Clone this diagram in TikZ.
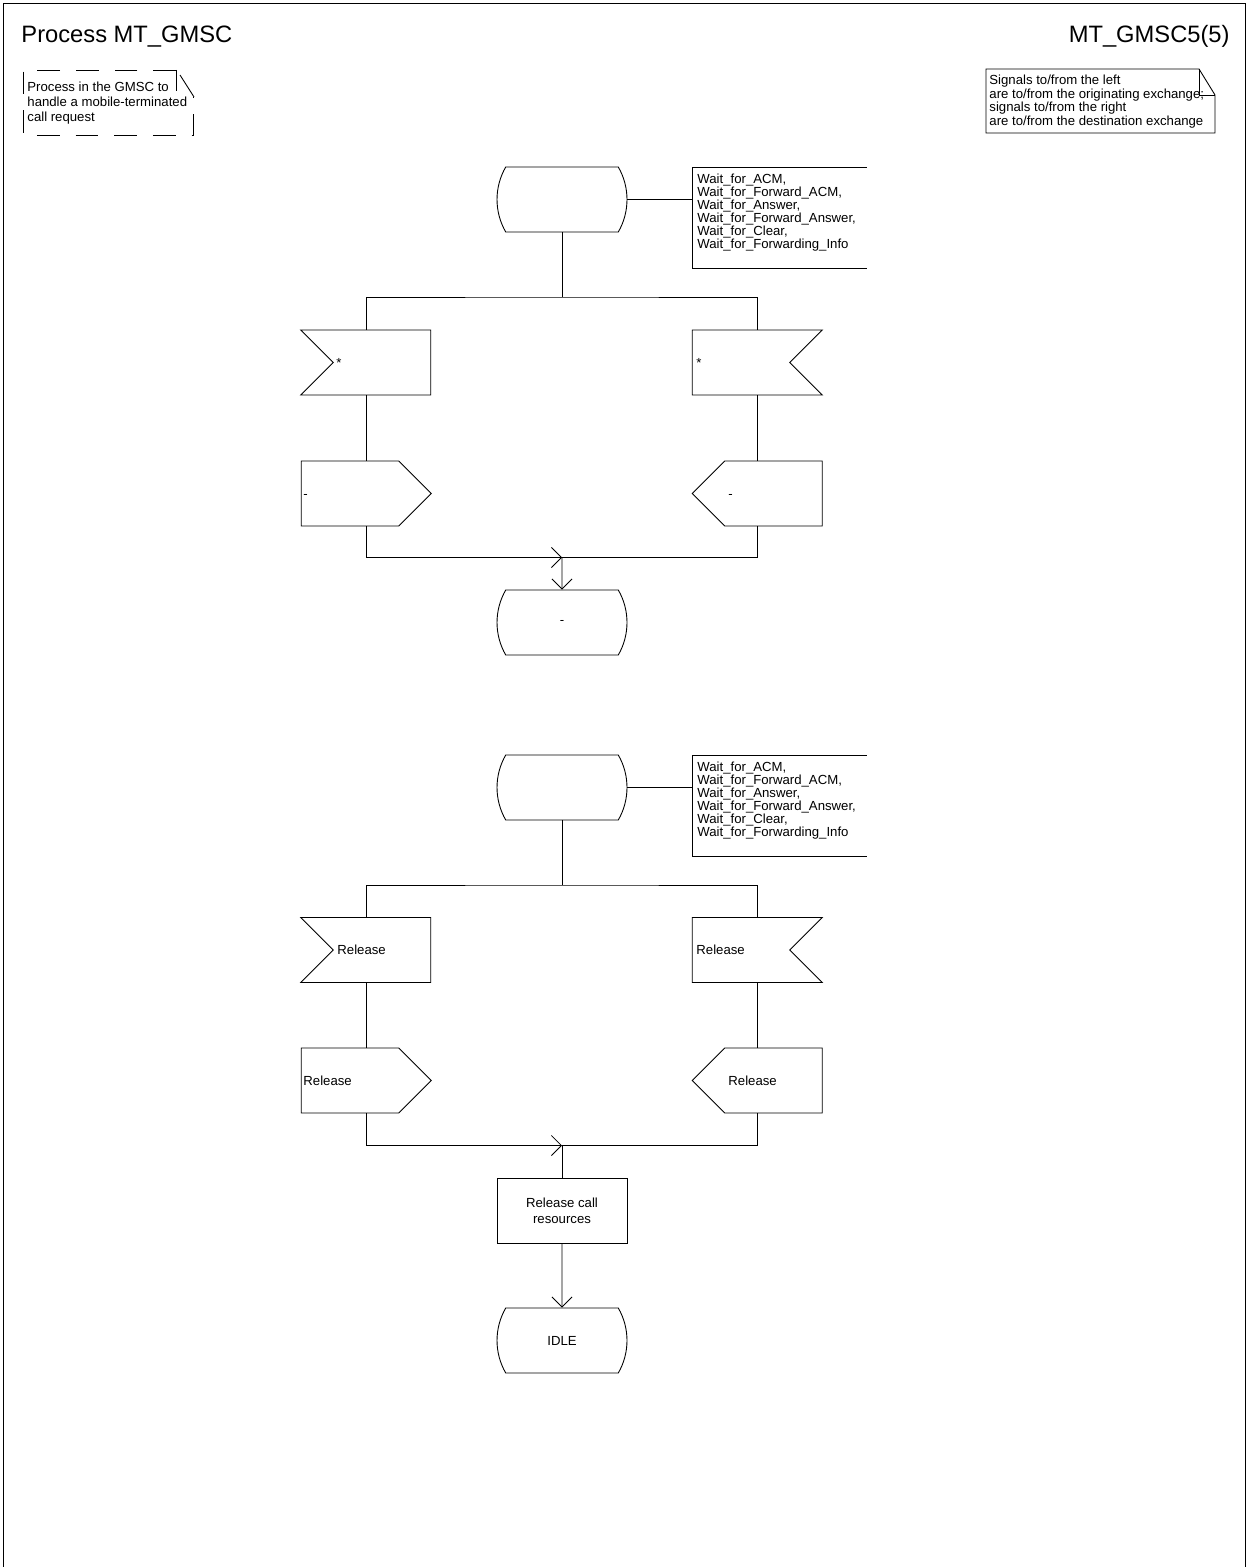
\documentclass[tikz,border=0pt]{standalone}
\usepackage{fontspec}
\setmainfont{Liberation Sans}
\usetikzlibrary{shapes.misc, shapes.symbols, arrows.meta, positioning}

\begin{document}
\begin{tikzpicture}[
    x=0.02cm, y=-0.02cm,
    line width=0.5pt,
    state/.style={rounded rectangle, rounded rectangle arc length=60, draw, minimum width=2.6cm, minimum height=1.3cm, inner sep=0pt, font=\fontsize{7.5}{9}\selectfont},
    sdl/.style={signal, draw, minimum width=2.6cm, minimum height=1.3cm, inner sep=0pt},
    inleft/.style={sdl, signal to=nowhere, signal from=west},
    inright/.style={sdl, signal to=nowhere, signal from=east},
    outleft/.style={sdl, signal to=east},
    outright/.style={sdl, signal to=west},
    task/.style={rectangle, draw, minimum width=2.6cm, minimum height=1.3cm, align=center, font=\fontsize{7.5}{9}\selectfont},
    annot/.style={rectangle, minimum width=3.48cm, minimum height=2.02cm, inner sep=0pt},
    txt/.style={inner sep=0pt, align=left, font=\fontsize{7.5}{7.4}\selectfont},
    lbl/.style={anchor=west, inner sep=0pt, text height=5.4pt, text depth=0pt, font=\fontsize{7.5}{9}\selectfont},
    flow/.style={-{Straight Barb[length=5.7pt, width=11.4pt]}}
]
    \useasboundingbox (0,0) rectangle (1247,1567);

    % Page frame and headings
    \draw (3,1567) -- (3,3) -- (1245,3) -- (1245,1567);
    \node[anchor=base west, inner sep=0pt, font=\fontsize{13.5}{16}\selectfont] (title) at (21,43) {Process MT\_GMSC};
    \node[anchor=base east, inner sep=0pt, font=\fontsize{13.5}{16}\selectfont] (page) at (1230,43) {MT\_GMSC5(5)};

    % Comment (dashed text symbol)
    \draw[dash pattern=on 13pt off 9pt] (176,70) -- (23,70) -- (23,135) -- (193,135) -- (193,97);
    \draw (176,70) -- (176,91);
    \draw (180,75) -- (194,97);
    \node[txt, anchor=north west, font=\fontsize{7.5}{8.5}\selectfont] (cmt) at (27,82) {Process in the GMSC to\\handle a mobile-terminated\\call request};

    % Note on signal directions
    \draw (986,69) -- (1199,69) -- (1215,95) -- (1215,133) -- (986,133) -- cycle;
    \draw (1199,69) -- (1199,95) -- (1215,95);
    \node[txt, anchor=north west, font=\fontsize{7.5}{7.6}\selectfont] (note) at (989,75) {Signals to/from the left\\are to/from the originating exchange;\\signals to/from the right\\are to/from the destination exchange};

    % Columns of the two branches
    \coordinate (colL) at (366,0);
    \coordinate (colR) at (757.5,0);

    % Upper part: any signal
    \node[state] (s1) at (562,199.5) {};
    \node[annot, anchor=north west] (a1) at (692,167) {};
    \draw (a1.north east) -- (a1.north west) -- (a1.south west) -- (a1.south east);
    \node[txt, anchor=north west] (a1t) at (697,173.5) {Wait\_for\_ACM,\\Wait\_for\_Forward\_ACM,\\Wait\_for\_Answer,\\Wait\_for\_Forward\_Answer,\\Wait\_for\_Clear,\\Wait\_for\_Forwarding\_Info};
    \draw (s1.east) -- (s1.east -| a1.west);

    \node[inleft] (i1l) at (382,362.5) {};
    \node[inright] (i1r) at (741,362.5) {};
    \node[outleft] (o1l) at (350,493.5) {};
    \node[outright] (o1r) at (773.5,493.5) {};
    \node[state] (s2) at (562,622.5) {-};
    \node[lbl] (i1lt) at (336,362.5) {*};
    \node[lbl] (i1rt) at (696,362.5) {*};
    \node[lbl] (o1lt) at (303,493.5) {-};
    \node[lbl] (o1rt) at (728,493.5) {-};

    \coordinate (j1) at (562,297);
    \coordinate (m1) at (562,557.5);
    \draw (s1) -- (j1);
    \draw (i1l.north -| colL) |- (j1) -| (i1r.north -| colR);
    \draw (i1l.south -| colL) -- (o1l.north -| colL);
    \draw (i1r.south -| colR) -- (o1r.north -| colR);
    \draw[flow] (o1l.south -| colL) |- (m1);
    \draw (o1r.south -| colR) |- (m1);
    \draw[flow] (m1) -- (s2);

    % Lower part: Release
    \node[state] (s3) at (562,787.5) {};
    \node[annot, anchor=north west] (a2) at (692,755) {};
    \draw (a2.north east) -- (a2.north west) -- (a2.south west) -- (a2.south east);
    \node[txt, anchor=north west] (a2t) at (697,761.5) {Wait\_for\_ACM,\\Wait\_for\_Forward\_ACM,\\Wait\_for\_Answer,\\Wait\_for\_Forward\_Answer,\\Wait\_for\_Clear,\\Wait\_for\_Forwarding\_Info};
    \draw (s3.east) -- (s3.east -| a2.west);

    \node[inleft] (i2l) at (382,950) {};
    \node[inright] (i2r) at (741,950) {};
    \node[outleft] (o2l) at (350,1080.5) {};
    \node[outright] (o2r) at (773.5,1080.5) {};
    \node[lbl] (i2lt) at (337,950) {Release};
    \node[lbl] (i2rt) at (696,950) {Release};
    \node[lbl] (o2lt) at (303,1080.5) {Release};
    \node[lbl] (o2rt) at (728,1080.5) {Release};
    \node[task] (t2) at (562,1210.5) {Release call\\resources};
    \node[state] (s4) at (562,1340.5) {IDLE};

    \coordinate (j2) at (562,885);
    \coordinate (m2) at (562,1145.5);
    \draw (s3) -- (j2);
    \draw (i2l.north -| colL) |- (j2) -| (i2r.north -| colR);
    \draw (i2l.south -| colL) -- (o2l.north -| colL);
    \draw (i2r.south -| colR) -- (o2r.north -| colR);
    \draw[flow] (o2l.south -| colL) |- (m2);
    \draw (o2r.south -| colR) |- (m2);
    \draw (m2) -- (t2);
    \draw[flow] (t2) -- (s4);

\end{tikzpicture}
\end{document}
